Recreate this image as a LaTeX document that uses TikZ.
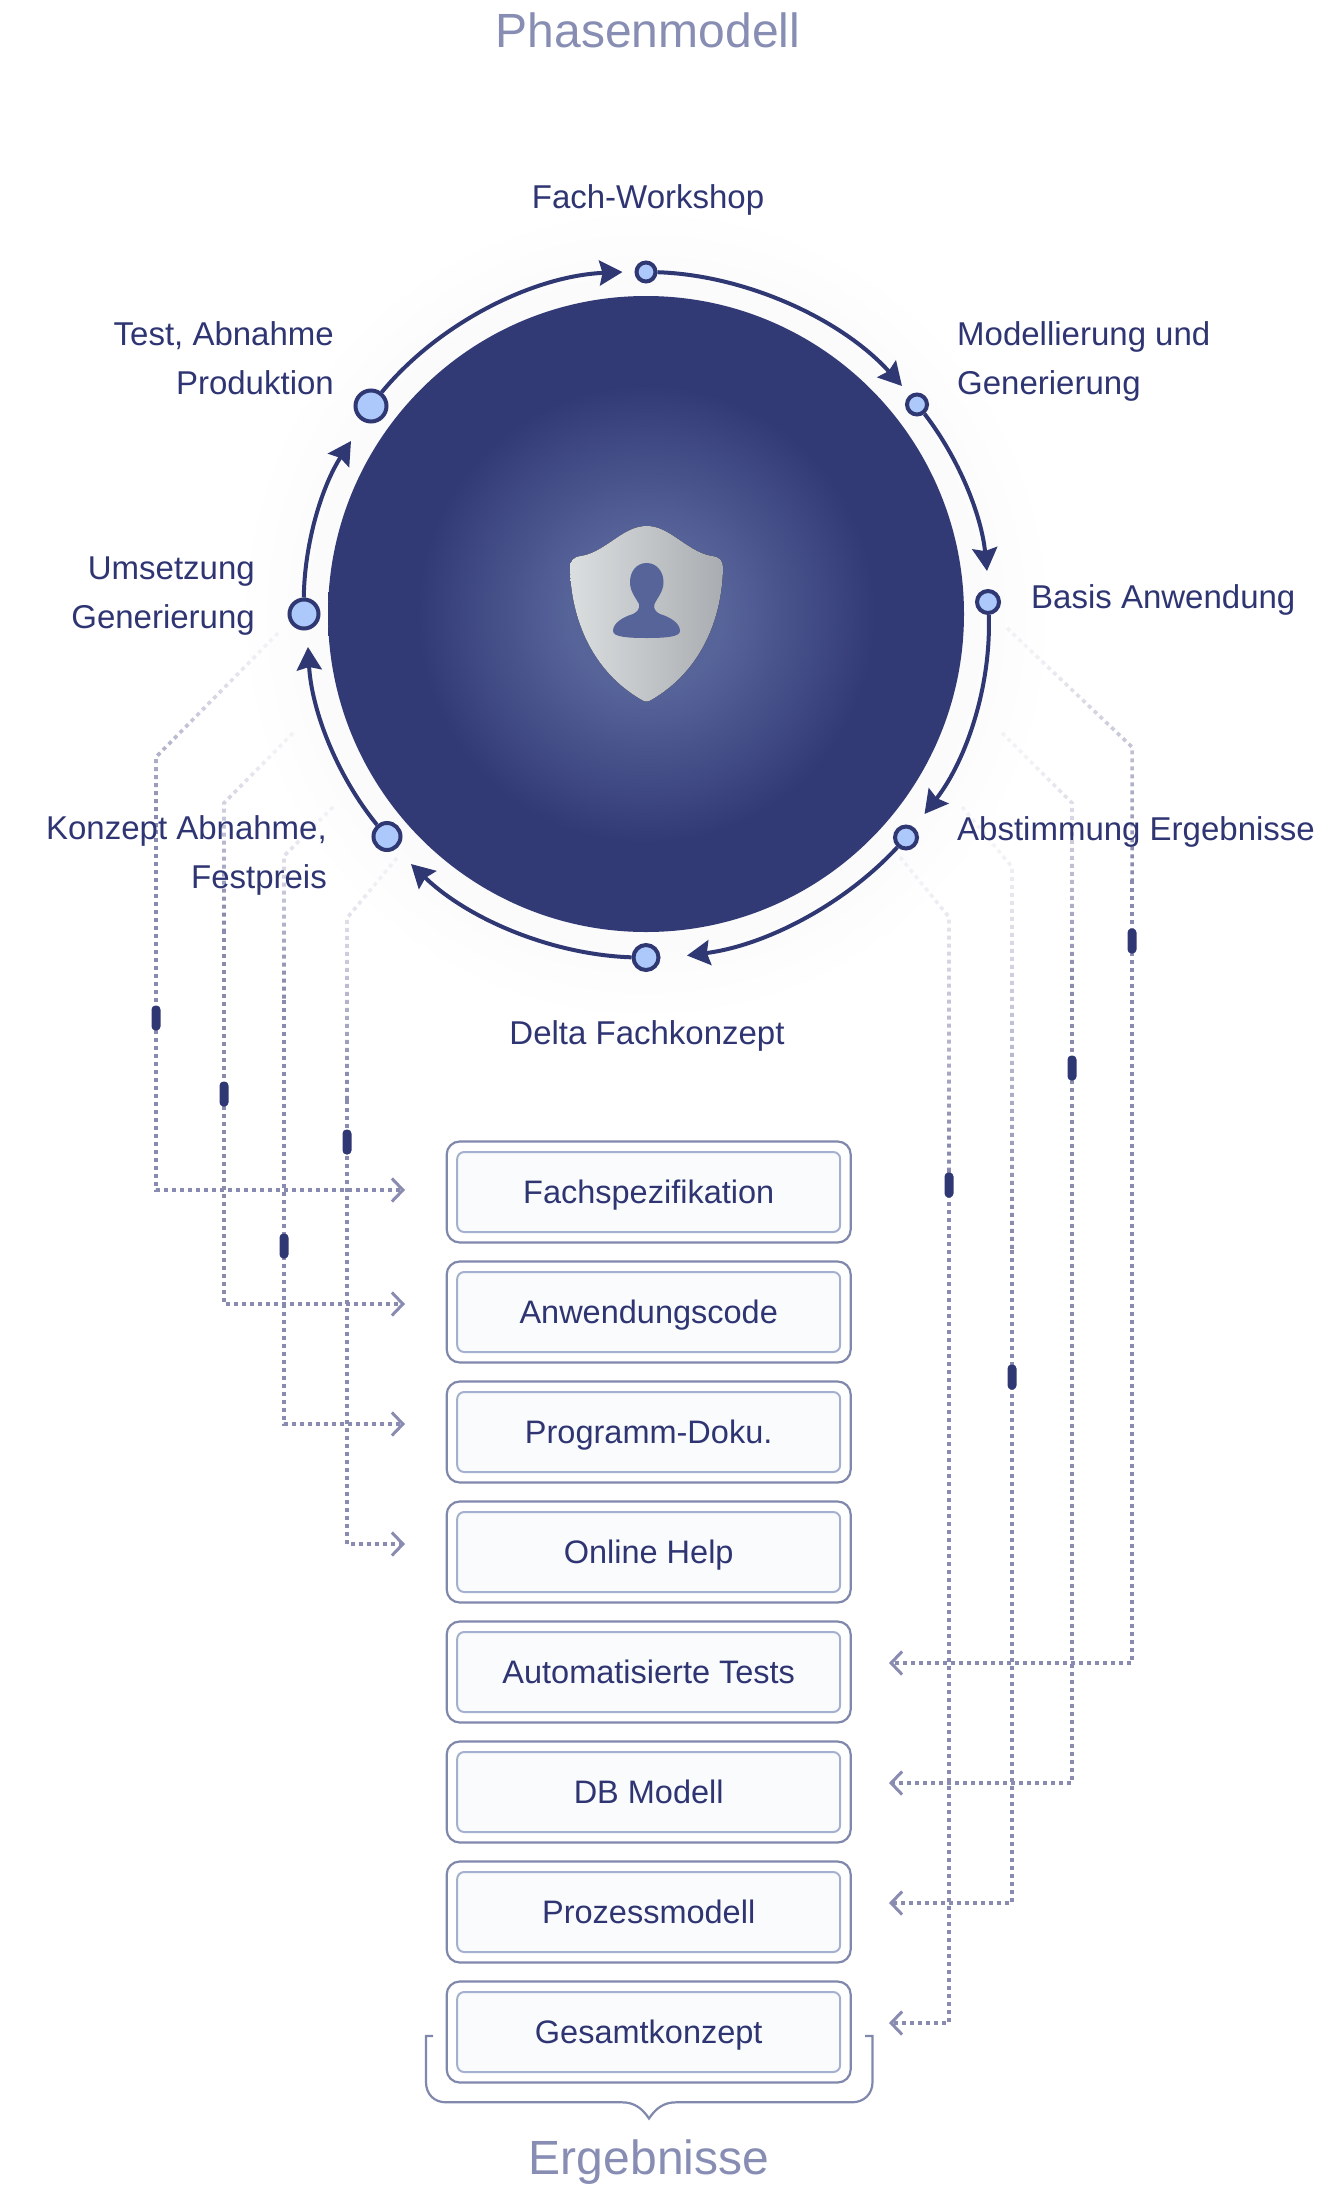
\documentclass[tikz,border=0pt]{standalone}
\usepackage{fontspec}
\setmainfont{Liberation Sans}
\usetikzlibrary{arrows.meta,fadings}

\definecolor{navy}{HTML}{2F3873}
\definecolor{inktext}{HTML}{2E3572}
\definecolor{bluefill}{HTML}{ADC9FB}
\definecolor{dotcol}{HTML}{8A8BB0}
\definecolor{boxline}{HTML}{8088AC}
\definecolor{innerline}{HTML}{A3B1CF}
\definecolor{innerfill}{HTML}{FAFBFC}
\definecolor{titlecol}{HTML}{878DB3}
\definecolor{discmid}{HTML}{57649A}
\definecolor{discedge}{HTML}{323A76}
\definecolor{halocol}{HTML}{FBFBFC}
\definecolor{shieldl}{HTML}{DADEDF}
\definecolor{shieldr}{HTML}{A9ADB1}

\pgfdeclareradialshading{discglow}{\pgfpointorigin}{color(0bp)=(discmid); color(6bp)=(discmid); color(18bp)=(discedge); color(50bp)=(discedge)}
\pgfdeclareradialshading{haloglow}{\pgfpointorigin}{color(0bp)=(halocol); color(20bp)=(halocol); color(25bp)=(white); color(50bp)=(white)}
\tikzfading[name=dotfade, top color=transparent!90, middle color=transparent!78, bottom color=transparent!0]

\tikzset{
  lbl/.style={text=inktext, font=\fontsize{33}{48.5}\selectfont, inner sep=0pt},
  titlelbl/.style={text=titlecol, font=\fontsize{48}{56}\selectfont, inner sep=0pt},
  phase/.style={circle, draw=navy, fill=bluefill, line width=4pt, inner sep=0pt, minimum size=#1},
  ringarrow/.style={draw=navy, line width=4pt, looseness=0.85, -{Stealth[length=23pt,width=25pt,inset=3pt]}},
  dotline/.style={draw=dotcol, line width=3.6pt, dash pattern=on 4pt off 4pt},
  fadeline/.style={dotline, path fading=dotfade, fading transform={yscale=0.8}},
  barb/.style={-{Straight Barb[length=11pt,width=23pt,line width=3pt,color=dotcol]}},
  handle/.style={fill=navy, rounded corners=4pt, minimum width=9pt, minimum height=25pt, inner sep=0pt},
  outerbox/.style={draw=boxline, line width=2.2pt, rounded corners=13pt, minimum width=404pt, minimum height=101pt, inner sep=0pt},
  innerbox/.style={draw=innerline, fill=innerfill, line width=2pt, rounded corners=7pt, minimum width=383pt, minimum height=80pt, inner sep=0pt, text=inktext, text height=23pt, text depth=0pt, font=\fontsize{32.5}{49}\selectfont},
}

\begin{document}
\begin{tikzpicture}[x=1pt,y=-1pt]
  \useasboundingbox (0,0) rectangle (1317,2186);

  \node [circle, minimum size=820pt, inner sep=0pt, shading=haloglow] (halo) at (646,614) {};

  % ends of the dotted lines
  \coordinate (ls1) at (278,633);
  \coordinate (lk1) at (156,757);
  \coordinate (lf1) at (156,830);
  \coordinate (le1) at (405,1190);
  \coordinate (ls2) at (293,733);
  \coordinate (lk2) at (224,803);
  \coordinate (lf2) at (224,930);
  \coordinate (le2) at (405,1304);
  \coordinate (ls3) at (333,807);
  \coordinate (lk3) at (284,856);
  \coordinate (lf3) at (284,1000);
  \coordinate (le3) at (405,1424);
  \coordinate (ls4) at (397,858);
  \coordinate (lk4) at (347,918);
  \coordinate (lf4) at (347,1100);
  \coordinate (le4) at (405,1544);

  \coordinate (rs1) at (1007,628);
  \coordinate (rk1) at (1132,747);
  \coordinate (rf1) at (1132,880);
  \coordinate (re1) at (889,1663);
  \coordinate (rs2) at (1002,733);
  \coordinate (rk2) at (1072,803);
  \coordinate (rf2) at (1072,1000);
  \coordinate (re2) at (889,1783);
  \coordinate (rs3) at (962,807);
  \coordinate (rk3) at (1012,867);
  \coordinate (rf3) at (1012,1250);
  \coordinate (re3) at (889,1903);
  \coordinate (rs4) at (900,857);
  \coordinate (rk4) at (949,917);
  \coordinate (rf4) at (949,1170);
  \coordinate (re4) at (889,2023);

  % fading part, then the full part
  \draw [fadeline] (ls1) -- (lk1) -- (lf1);
  \draw [fadeline] (ls2) -- (lk2) -- (lf2);
  \draw [fadeline] (ls3) -- (lk3) -- (lf3);
  \draw [fadeline] (ls4) -- (lk4) -- (lf4);
  \draw [fadeline] (rs1) -- (rk1) -- (rf1);
  \draw [fadeline] (rs2) -- (rk2) -- (rf2);
  \draw [fadeline] (rs3) -- (rk3) -- (rf3);
  \draw [fadeline] (rs4) -- (rk4) -- (rf4);

  \draw [dotline, barb] (lf1) |- (le1);
  \draw [dotline, barb] (lf2) |- (le2);
  \draw [dotline, barb] (lf3) |- (le3);
  \draw [dotline, barb] (lf4) |- (le4);
  \draw [dotline, barb] (rf1) |- (re1);
  \draw [dotline, barb] (rf2) |- (re2);
  \draw [dotline, barb] (rf3) |- (re3);
  \draw [dotline, barb] (rf4) |- (re4);

  \node [handle] (lh1) at (156,1018) {};
  \node [handle] (lh2) at (224,1094) {};
  \node [handle] (lh3) at (284,1246) {};
  \node [handle] (lh4) at (347,1142) {};
  \node [handle] (rh1) at (1132,941) {};
  \node [handle] (rh2) at (1072,1068) {};
  \node [handle] (rh3) at (1012,1377) {};
  \node [handle] (rh4) at (949,1185) {};

  % the disc with the shield
  \node [circle, minimum size=636pt, inner sep=0pt, shading=discglow] (disc) at (646,614) {};
  \fill [left color=shieldl, right color=shieldr]
    (647,526) .. controls (656,526) and (664,530) .. (672,535)
    .. controls (686,544) and (698,554) .. (712,556)
    .. controls (720,557) and (723,561) .. (723,568)
    .. controls (722,620) and (700,672) .. (651,700)
    .. controls (648,702) and (645,702) .. (642,700)
    .. controls (593,672) and (571,620) .. (570,568)
    .. controls (570,561) and (573,557) .. (581,556)
    .. controls (595,554) and (607,544) .. (621,535)
    .. controls (629,530) and (637,526) .. (647,526) -- cycle;
  \fill [discmid]
    (646.7,563) .. controls (657,563) and (663.5,572) .. (663.5,582)
    .. controls (663.5,592) and (657,598) .. (654.5,604)
    .. controls (653,609) and (656,612) .. (660,614)
    .. controls (670,617) and (680,623) .. (680,631)
    .. controls (680,637) and (665,638) .. (646.7,638)
    .. controls (628,638) and (613,637) .. (613,631)
    .. controls (613,623) and (623,617) .. (633,614)
    .. controls (637,612) and (640,609) .. (639,604)
    .. controls (636,598) and (630,592) .. (630,582)
    .. controls (630,572) and (636,563) .. (646.7,563) -- cycle;

  % phases around the disc
  \node [phase=19pt] (fw) at (646,272) {};
  \node [phase=20pt] (mg) at (917,404.5) {};
  \node [phase=22pt] (ba) at (988,602) {};
  \node [phase=22pt] (ae) at (906,837.5) {};
  \node [phase=25pt] (df) at (646,957.5) {};
  \node [phase=27pt] (kf) at (387,836.5) {};
  \node [phase=29pt] (ug) at (304,614) {};
  \node [phase=31pt] (tp) at (371,406) {};

  \coordinate (mgin) at (902,386);
  \coordinate (bain) at (987,571);
  \coordinate (aein) at (924.5,814);
  \coordinate (dfin) at (687,955.5);
  \coordinate (kfin) at (411,864);
  \coordinate (ugin) at (308,647);
  \coordinate (tpin) at (351,441);
  \coordinate (fwin) at (622.5,272);

  \draw [ringarrow] (fw) to[bend left=23] (mgin);
  \draw [ringarrow] (mg) to[bend left=16] (bain);
  \draw [ringarrow] (ba) to[bend left=20] (aein);
  \draw [ringarrow] (ae) to[bend left=20] (dfin);
  \draw [ringarrow] (df) to[bend left=21] (kfin);
  \draw [ringarrow] (kf) to[bend left=18] (ugin);
  \draw [ringarrow] (ug) to[bend left=16] (tpin);
  \draw [ringarrow] (tp) to[bend left=24] (fwin);

  % labels
  \node [titlelbl, anchor=base] (ph) at (648,48) {Phasenmodell};
  \node [lbl, anchor=base] (fwl) at (648,208) {Fach-Workshop};
  \node [lbl, anchor=base west, align=left] (mgl) at (957,394) {Modellierung und\\Generierung};
  \node [lbl, anchor=base west] (bal) at (1031,608.5) {Basis Anwendung};
  \node [lbl, anchor=base west] (ael) at (957,840) {Abstimmung Ergebnisse};
  \node [lbl, anchor=base] (dfl) at (647,1044) {Delta Fachkonzept};
  \node [lbl, anchor=base east, align=right] (kfl) at (327,888) {Konzept Abnahme,\\Festpreis};
  \node [lbl, anchor=base east, align=right] (ugl) at (255,628) {Umsetzung\\Generierung};
  \node [lbl, anchor=base east, align=right] (tpl) at (334,394) {Test, Abnahme\\Produktion};

  % result boxes
  \node [outerbox] (fs) at (648.7,1192) {};
  \node [innerbox] (fsi) at (fs) {Fachspezifikation};
  \node [outerbox] (ac) at (648.7,1312) {};
  \node [innerbox] (aci) at (ac) {Anwendungscode};
  \node [outerbox] (pd) at (648.7,1432) {};
  \node [innerbox] (pdi) at (pd) {Programm-Doku.};
  \node [outerbox] (oh) at (648.7,1552) {};
  \node [innerbox] (ohi) at (oh) {Online Help};
  \node [outerbox] (at) at (648.7,1672) {};
  \node [innerbox] (ati) at (at) {Automatisierte Tests};
  \node [outerbox] (db) at (648.7,1792) {};
  \node [innerbox] (dbi) at (db) {DB Modell};
  \node [outerbox] (pm) at (648.7,1912) {};
  \node [innerbox] (pmi) at (pm) {Prozessmodell};
  \node [outerbox] (gk) at (648.7,2032) {};
  \node [innerbox] (gki) at (gk) {Gesamtkonzept};

  % brace under the last box
  \draw [boxline, line width=2.2pt]
    (433,2036) -- (426,2036) -- (426,2082)
    .. controls (426,2094) and (434,2102.3) .. (446,2102.3)
    -- (622,2102.3) .. controls (634,2102.3) and (642,2108) .. (649,2118.5)
    .. controls (656,2108) and (664,2102.3) .. (676,2102.3)
    -- (852,2102.3) .. controls (864,2102.3) and (872.5,2094) .. (872.5,2082)
    -- (872.5,2036) -- (865,2036);
  \node [titlelbl, anchor=base] (er) at (649,2174) {Ergebnisse};
\end{tikzpicture}
\end{document}
